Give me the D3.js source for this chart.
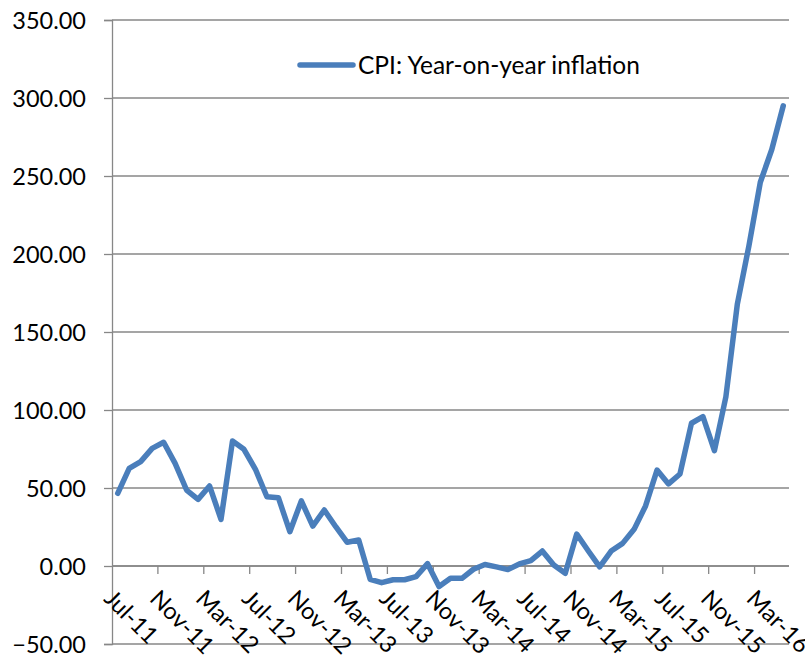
<!DOCTYPE html>
<html>
<head>
<meta charset="utf-8">
<script src="https://cdn.jsdelivr.net/npm/d3@7"></script>
<style>
  html, body { margin: 0; padding: 0; background: #fff; }
  svg { display: block; font-family: Lato, "Open Sans", sans-serif; }
</style>
</head>
<body>
<svg id="chart" width="805" height="662"></svg>
<script>
// Monthly categories, Jul-11 .. May-16
const months = [
  "Jul-11","Aug-11","Sep-11","Oct-11","Nov-11","Dec-11",
  "Jan-12","Feb-12","Mar-12","Apr-12","May-12","Jun-12","Jul-12","Aug-12","Sep-12","Oct-12","Nov-12","Dec-12",
  "Jan-13","Feb-13","Mar-13","Apr-13","May-13","Jun-13","Jul-13","Aug-13","Sep-13","Oct-13","Nov-13","Dec-13",
  "Jan-14","Feb-14","Mar-14","Apr-14","May-14","Jun-14","Jul-14","Aug-14","Sep-14","Oct-14","Nov-14","Dec-14",
  "Jan-15","Feb-15","Mar-15","Apr-15","May-15","Jun-15","Jul-15","Aug-15","Sep-15","Oct-15","Nov-15","Dec-15",
  "Jan-16","Feb-16","Mar-16","Apr-16","May-16"
];

// CPI: year-on-year inflation, %
const cpiInflation = [
  46.6, 62.6, 66.9, 75.4, 79.3, 65.8,
  48.7, 42.7, 51.3, 29.9, 80.1, 74.8, 62.0, 44.4, 43.8, 22.0, 41.7, 25.6,
  35.9, 25.2, 15.2, 16.7, -8.5, -10.7, -8.8, -8.8, -6.8, 1.5, -13.2, -7.9,
  -7.9, -2.1, 1.0, -0.6, -2.3, 1.3, 3.4, 9.6, 0.6, -4.7, 20.5, 9.8,
  -0.5, 9.6, 14.5, 23.5, 38.5, 61.5, 52.6, 59.0, 91.5, 95.7, 73.9, 108.5,
  168.0, 205.0, 246.0, 267.0, 295.0
];

// Axis tick labels
const yTicks = [-50, 0, 50, 100, 150, 200, 250, 300, 350];
const xTickLabels = ["Jul-11","Nov-11","Mar-12","Jul-12","Nov-12","Mar-13","Jul-13",
  "Nov-13","Mar-14","Jul-14","Nov-14","Mar-15","Jul-15","Nov-15","Mar-16"];

const seriesName = "CPI: Year-on-year inflation";

const svg = d3.select("#chart");
const plotLeft = 112, plotRight = 789, plotTop = 20, plotBottom = 644;
const gridColor = "#878787";
const lineColor = "#4A7EBB";

const x = d3.scaleBand().domain(months).range([plotLeft, plotRight]).paddingInner(0).paddingOuter(0);
const y = d3.scaleLinear().domain([-50, 350]).range([plotBottom, plotTop]);

// Horizontal gridlines
svg.append("g")
  .selectAll("line")
  .data(yTicks)
  .join("line")
  .attr("x1", plotLeft).attr("x2", plotRight)
  .attr("y1", d => y(d)).attr("y2", d => y(d))
  .attr("stroke", gridColor).attr("stroke-width", 1.3);

// Value axis with left tick marks
const yAxis = d3.axisLeft(y).tickValues(yTicks).tickSize(8).tickPadding(18)
  .tickFormat(d3.format(".2f"));
const gy = svg.append("g").attr("transform", `translate(${plotLeft},0)`).call(yAxis);
gy.select(".domain").attr("stroke", gridColor).attr("stroke-width", 1.3);
gy.selectAll(".tick line").attr("stroke", gridColor).attr("stroke-width", 1.3);
gy.selectAll(".tick text")
  .attr("font-family", "Lato, sans-serif")
  .attr("font-size", 23.5)
  .attr("fill", "#000")
  .attr("dy", "0.36em");

// Category axis crossing at zero, ticks every 4 months on band boundaries
const y0 = y(0);
svg.append("line")
  .attr("x1", plotLeft).attr("x2", plotRight).attr("y1", y0).attr("y2", y0)
  .attr("stroke", gridColor).attr("stroke-width", 1.3);

const tickIdx = d3.range(4, months.length, 4);
svg.append("g")
  .selectAll("line")
  .data(tickIdx)
  .join("line")
  .attr("x1", i => x(months[i])).attr("x2", i => x(months[i]))
  .attr("y1", y0).attr("y2", y0 + 8)
  .attr("stroke", gridColor).attr("stroke-width", 1.3);

// Rotated month labels
svg.append("g")
  .selectAll("text")
  .data(xTickLabels)
  .join("text")
  .attr("transform", d => `translate(${x(d) + x.bandwidth() / 2 - 2},${y0 + 21}) rotate(45)`)
  .attr("dominant-baseline", "hanging")
  .attr("font-family", "Lato, sans-serif")
  .attr("font-size", 23.5)
  .attr("fill", "#000")
  .text(d => d);

// Series line
const line = d3.line()
  .x((d, i) => x(months[i]) + x.bandwidth() / 2)
  .y(d => y(d));

svg.append("path")
  .datum(cpiInflation)
  .attr("d", line)
  .attr("fill", "none")
  .attr("stroke", lineColor)
  .attr("stroke-width", 5.5)
  .attr("stroke-linejoin", "round")
  .attr("stroke-linecap", "round");

// Legend
const legend = svg.append("g").attr("transform", "translate(300,65)");
legend.append("line")
  .attr("x1", 0).attr("x2", 53).attr("y1", 0).attr("y2", 0)
  .attr("stroke", lineColor).attr("stroke-width", 5.5).attr("stroke-linecap", "round");
legend.append("text")
  .attr("x", 58).attr("y", 9)
  .attr("font-family", "Lato, sans-serif")
  .attr("font-size", 24.5)
  .attr("fill", "#000")
  .text(seriesName);
</script>
</body>
</html>
